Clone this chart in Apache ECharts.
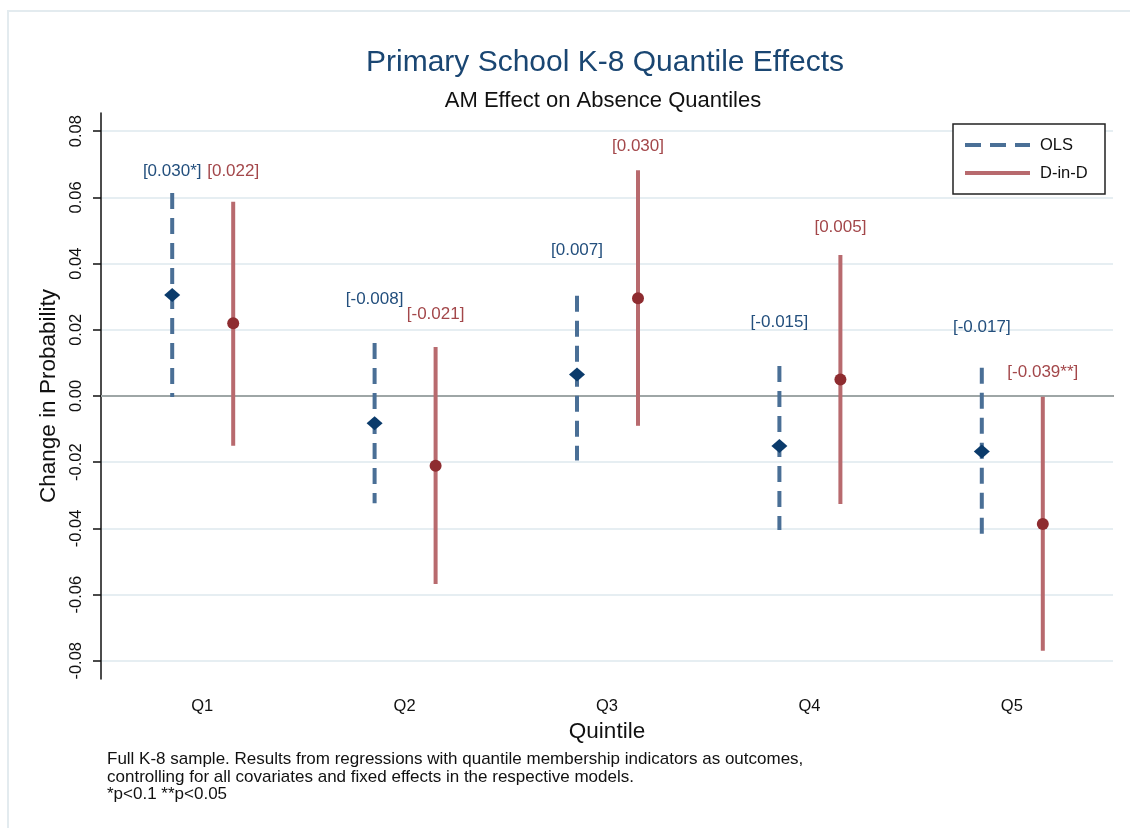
<!DOCTYPE html>
<html>
<head>
<meta charset="utf-8">
<script src="https://cdn.jsdelivr.net/npm/echarts@6/dist/echarts.min.js"></script>
<style>
  html, body { margin: 0; padding: 0; background: #fff; }
  #chart { width: 1130px; height: 828px; }
</style>
</head>
<body>
<div id="chart"></div>
<script>
// categories and values
var quintiles = ['Q1', 'Q2', 'Q3', 'Q4', 'Q5'];
var olsEst = [0.0305, -0.0082, 0.0065, -0.0151, -0.0168];
var olsLow = [-0.0003, -0.0324, -0.0195, -0.0405, -0.0428];
var olsHigh = [0.0613, 0.0160, 0.0303, 0.0091, 0.0085];
var olsLabels = ['[0.030*]', '[-0.008]', '[0.007]', '[-0.015]', '[-0.017]'];
var didEst = [0.0220, -0.0211, 0.0295, 0.0050, -0.0387];
var didLow = [-0.0150, -0.0568, -0.0090, -0.0326, -0.0770];
var didHigh = [0.0587, 0.0148, 0.0682, 0.0426, -0.0002];
var didLabels = ['[0.022]', '[-0.021]', '[0.030]', '[0.005]', '[-0.039**]'];
var yTicks = [-0.08, -0.06, -0.04, -0.02, 0, 0.02, 0.04, 0.06, 0.08];

var font = '"Liberation Sans", Arial, sans-serif';

function buildData(est, low, high) {
  var out = [];
  for (var i = 0; i < est.length; i++) {
    out.push([i, est[i], low[i], high[i]]);
  }
  return out;
}

function renderOls(params, api) {
  var i = api.value(0);
  var mid = api.coord([i, api.value(1)]);
  var lo = api.coord([i, api.value(2)]);
  var hi = api.coord([i, api.value(3)]);
  var x = mid[0] - 30;
  var y = mid[1];
  return {
    type: 'group',
    children: [
      { type: 'line', shape: { x1: x, y1: hi[1], x2: x, y2: lo[1] },
        style: { stroke: '#4a6f96', lineWidth: 4, lineDash: [16, 9] } },
      { type: 'polygon', shape: { points: [[x, y - 7], [x + 8, y], [x, y + 7], [x - 8, y]] },
        style: { fill: '#0b3b6b' } },
      { type: 'text', x: x, y: y - 124,
        style: { text: olsLabels[params.dataIndex], fill: '#234f7d', fontSize: 17,
                 fontFamily: font, align: 'center', verticalAlign: 'middle' } }
    ]
  };
}

function renderDid(params, api) {
  var i = api.value(0);
  var mid = api.coord([i, api.value(1)]);
  var lo = api.coord([i, api.value(2)]);
  var hi = api.coord([i, api.value(3)]);
  var x = mid[0] + 31;
  var y = mid[1];
  return {
    type: 'group',
    children: [
      { type: 'line', shape: { x1: x, y1: hi[1], x2: x, y2: lo[1] },
        style: { stroke: '#b86a6e', lineWidth: 4 } },
      { type: 'circle', shape: { cx: x, cy: y, r: 6 },
        style: { fill: '#8e2c30' } },
      { type: 'text', x: x, y: y - 152,
        style: { text: didLabels[params.dataIndex], fill: '#a3474a', fontSize: 17,
                 fontFamily: font, align: 'center', verticalAlign: 'middle' } }
    ]
  };
}

var chart = echarts.init(document.getElementById('chart'));

var option = {
  backgroundColor: '#fff',
  animation: false,
  title: [{
    text: 'Primary School K-8 Quantile Effects',
    left: 600,
    top: 43,
    textAlign: 'center',
    textStyle: { fontFamily: font, fontSize: 30, fontWeight: 'normal', color: '#1a4672' }
  }, {
    text: 'AM Effect on Absence Quantiles',
    left: 598,
    top: 85,
    textAlign: 'center',
    textStyle: { fontFamily: font, fontSize: 22, fontWeight: 'normal', color: '#111' }
  }],
  grid: { left: 101, right: 17, top: 113, bottom: 149, containLabel: false },
  xAxis: {
    type: 'category',
    data: quintiles,
    boundaryGap: true,
    name: 'Quintile',
    nameLocation: 'middle',
    nameGap: 33,
    nameTextStyle: { fontFamily: font, fontSize: 22.5, color: '#111' },
    axisLine: { lineStyle: { color: '#111', width: 1.5 } },
    axisTick: { alignWithLabel: true, length: 8, lineStyle: { color: '#111', width: 1.5 } },
    axisLabel: { margin: 19, fontFamily: font, fontSize: 16.5, color: '#111' },
    splitLine: { show: false }
  },
  yAxis: {
    type: 'value',
    min: -0.0855,
    max: 0.0855,
    name: 'Change in Probability',
    nameLocation: 'middle',
    nameGap: 34,
    nameTextStyle: { fontFamily: font, fontSize: 22.5, color: '#111' },
    axisLine: { show: true, lineStyle: { color: '#111', width: 1.5 } },
    axisTick: { show: true, length: 8, customValues: yTicks, lineStyle: { color: '#111', width: 1.5 } },
    axisLabel: {
      rotate: 90,
      margin: 16,
      customValues: yTicks,
      fontFamily: font,
      fontSize: 16.5,
      color: '#111',
      formatter: function (v) { return v.toFixed(2); }
    },
    splitLine: { show: true, lineStyle: { color: '#e6eef2', width: 2 } }
  },
  series: [{
    name: 'OLS',
    type: 'custom',
    renderItem: renderOls,
    encode: { x: 0, y: [1, 2, 3] },
    data: buildData(olsEst, olsLow, olsHigh),
    z: 3,
    markLine: {
      silent: true,
      symbol: 'none',
      label: { show: false },
      lineStyle: { color: '#9ea6a6', width: 2, type: 'solid' },
      data: [{ yAxis: 0 }],
      z: 2
    }
  }, {
    name: 'D-in-D',
    type: 'custom',
    renderItem: renderDid,
    encode: { x: 0, y: [1, 2, 3] },
    data: buildData(didEst, didLow, didHigh),
    z: 3
  }],
  graphic: [
    // outer frame
    { type: 'rect', shape: { x: 8, y: 11, width: 1140, height: 840 },
      style: { fill: null, stroke: '#e3ebef', lineWidth: 2 }, z: 0 },
    // legend box
    { type: 'rect', shape: { x: 953, y: 124, width: 152, height: 70 },
      style: { fill: '#fff', stroke: '#222', lineWidth: 1.5 }, z: 10 },
    { type: 'line', shape: { x1: 965, y1: 145, x2: 1030, y2: 145 },
      style: { stroke: '#4a6f96', lineWidth: 4, lineDash: [16, 9] }, z: 11 },
    { type: 'text', x: 1040, y: 145, z: 11,
      style: { text: 'OLS', fontFamily: font, fontSize: 16.5, fill: '#111', verticalAlign: 'middle' } },
    { type: 'line', shape: { x1: 965, y1: 173, x2: 1030, y2: 173 },
      style: { stroke: '#b86a6e', lineWidth: 4 }, z: 11 },
    { type: 'text', x: 1040, y: 173, z: 11,
      style: { text: 'D-in-D', fontFamily: font, fontSize: 16.5, fill: '#111', verticalAlign: 'middle' } },
    // note
    { type: 'text', x: 107, y: 751, z: 11,
      style: {
        text: 'Full K-8 sample. Results from regressions with quantile membership indicators as outcomes,\ncontrolling for all covariates and fixed effects in the respective models.\n*p<0.1 **p<0.05',
        fontFamily: font, fontSize: 17, lineHeight: 17.5, fill: '#111'
      } }
  ]
};

chart.setOption(option);
</script>
</body>
</html>
